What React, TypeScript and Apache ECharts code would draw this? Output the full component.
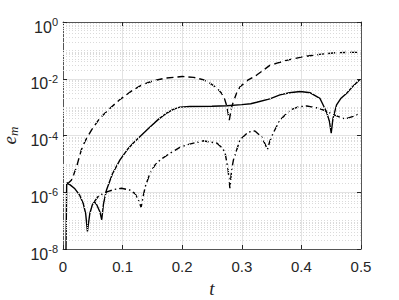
import React, { useEffect, useRef } from 'react';
import * as echarts from 'echarts';

// Solid curve
const tSolid = [0.0045, 0.0062, 0.012, 0.020, 0.028, 0.034, 0.038, 0.041, 0.045, 0.049, 0.0526, 0.057, 0.062, 0.065, 0.068, 0.073, 0.083, 0.0956, 0.108, 0.118, 0.131, 0.146, 0.16, 0.174, 0.185, 0.196, 0.213, 0.25, 0.275, 0.30, 0.315, 0.325, 0.347, 0.364, 0.38, 0.398, 0.415, 0.431, 0.442, 0.447, 0.45, 0.453, 0.459, 0.466, 0.476, 0.487, 0.498];
const eSolid = [1e-9, 2.09e-6, 1.82e-6, 1.32e-6, 7.9e-7, 4.0e-7, 1.78e-7, 4.2e-8, 1.78e-7, 3.5e-7, 4.7e-7, 3.5e-7, 2.0e-7, 1.07e-7, 4.0e-7, 1.2e-6, 4.5e-6, 1.38e-5, 3.2e-5, 5.4e-5, 1.0e-4, 2.0e-4, 3.7e-4, 6.2e-4, 8.3e-4, 1.0e-3, 1.05e-3, 1.07e-3, 1.12e-3, 1.23e-3, 1.32e-3, 1.48e-3, 1.95e-3, 2.7e-3, 3.2e-3, 3.55e-3, 3.2e-3, 2.05e-3, 6.9e-4, 3.2e-4, 1.2e-4, 4.0e-4, 1.2e-3, 2.0e-3, 3.1e-3, 5.6e-3, 9.5e-3];

// Dashed curve
const tDashed = [0.0062, 0.010, 0.014, 0.018, 0.023, 0.026, 0.031, 0.037, 0.048, 0.062, 0.079, 0.0945, 0.118, 0.132, 0.15, 0.171, 0.2, 0.219, 0.235, 0.247, 0.258, 0.266, 0.271, 0.275, 0.279, 0.283, 0.286, 0.291, 0.297, 0.31, 0.325, 0.347, 0.359, 0.38, 0.403, 0.43, 0.459, 0.48, 0.498];
const eDashed = [2.09e-6, 2.19e-6, 2.63e-6, 4.2e-6, 8.1e-6, 1.38e-5, 3.2e-5, 6.3e-5, 1.58e-4, 4.1e-4, 9.1e-4, 1.78e-3, 4.1e-3, 6.0e-3, 8.3e-3, 1.05e-2, 1.2e-2, 1.12e-2, 9.3e-3, 6.9e-3, 4.8e-3, 3.1e-3, 2.0e-3, 1.05e-3, 3.5e-4, 1.0e-3, 1.58e-3, 3.0e-3, 5.2e-3, 8.9e-3, 1.35e-2, 2.95e-2, 3.55e-2, 4.7e-2, 6.0e-2, 7.2e-2, 8.3e-2, 8.5e-2, 8.5e-2];

// Dash-dot curve
const tDashDot = [0.0526, 0.059, 0.068, 0.076, 0.086, 0.098, 0.112, 0.121, 0.127, 0.131, 0.134, 0.138, 0.146, 0.154, 0.163, 0.18, 0.196, 0.208, 0.235, 0.258, 0.268, 0.272, 0.277, 0.28, 0.283, 0.286, 0.297, 0.311, 0.322, 0.333, 0.339, 0.343, 0.347, 0.353, 0.364, 0.381, 0.395, 0.409, 0.425, 0.437, 0.454, 0.473, 0.487, 0.498];
const eDashDot = [4.7e-7, 7.1e-7, 9.3e-7, 1.07e-6, 1.26e-6, 1.38e-6, 1.2e-6, 8.9e-7, 5.0e-7, 2.95e-7, 6.3e-7, 1.58e-6, 4.7e-6, 8.9e-6, 1.38e-5, 2.4e-5, 3.8e-5, 4.7e-5, 6.5e-5, 5.4e-5, 3.5e-5, 2.4e-5, 6.2e-6, 1.38e-6, 6.3e-6, 1.38e-5, 7.1e-5, 1.32e-4, 1.45e-4, 9.1e-5, 5.0e-5, 3.2e-5, 6.3e-5, 1.26e-4, 3.5e-4, 7.9e-4, 1.02e-3, 1.1e-3, 9.5e-4, 7.9e-4, 5.4e-4, 3.8e-4, 4.7e-4, 5.8e-4];

// Axes
const xMin = 0;
const xMax = 0.5;
const xStep = 0.1;
const yMinExp = -8;
const yMaxExp = 0;
const yStepExp = 2;

const AXIS = '#262626';

export default function App() {
  const ref = useRef<HTMLDivElement>(null);
  useEffect(() => {
    const chart = echarts.init(ref.current!, null, { renderer: 'svg' });
    const toPts = (ts: number[], vs: number[]) => ts.map((t, i) => [t, Math.log10(vs[i])]);
    const minor: number[] = [];
    for (let e = yMinExp; e < yMaxExp; e++) {
      for (let k = 1; k <= 9; k++) {
        if (k === 1 && e % yStepExp === 0) continue;
        minor.push(e + Math.log10(k));
      }
    }
    const tickStyle = { inside: true, length: 4, lineStyle: { color: AXIS, width: 1 } };
    const lineStyleAxis = { color: '#555', width: 1 };
    chart.setOption({
      animation: false,
      grid: { left: 63, right: 38, top: 22, bottom: 51, containLabel: false, outerBoundsMode: 'none' },
      xAxis: [
        {
          type: 'value', min: xMin, max: xMax, interval: xStep, position: 'bottom',
          axisLine: { show: true, onZero: false, lineStyle: lineStyleAxis },
          axisTick: tickStyle,
          axisLabel: { fontSize: 15, color: AXIS, fontFamily: 'Liberation Sans', margin: 10 },
          splitLine: { show: true, lineStyle: { color: '#e3e3e3', width: 1 } },
          name: 't', nameLocation: 'middle', nameGap: 29,
          nameTextStyle: { fontFamily: 'Liberation Serif', fontStyle: 'italic', fontSize: 19, color: AXIS },
        },
        {
          type: 'value', min: xMin, max: xMax, interval: xStep, position: 'top',
          axisLine: { show: true, onZero: false, lineStyle: lineStyleAxis },
          axisTick: tickStyle, axisLabel: { show: false }, splitLine: { show: false },
        },
      ],
      yAxis: [
        {
          type: 'value', min: yMinExp, max: yMaxExp, interval: yStepExp, position: 'left',
          axisLine: { show: true, onZero: false, lineStyle: lineStyleAxis },
          axisTick: tickStyle,
          axisLabel: {
            margin: 5, color: AXIS, fontFamily: 'Liberation Sans',
            formatter: (v: number) => `{b|10}{s|${Math.round(v)}}`,
            rich: {
              b: { fontSize: 16, color: AXIS, fontFamily: 'Liberation Sans', padding: [10, 0, 0, 0] },
              s: { fontSize: 11, color: AXIS, fontFamily: 'Liberation Sans' },
            },
          },
          splitLine: { show: true, lineStyle: { color: '#e3e3e3', width: 1 } },
          name: '{e|e}{m|m}', nameLocation: 'middle', nameGap: 43, nameRotate: 90,
          nameTextStyle: {
            rich: {
              e: { fontFamily: 'Liberation Serif', fontStyle: 'italic', fontSize: 19, color: AXIS },
              m: { fontFamily: 'Liberation Serif', fontStyle: 'italic', fontSize: 13, color: AXIS, padding: [7, 0, 0, 0] },
            },
          },
        },
        {
          type: 'value', min: yMinExp, max: yMaxExp, interval: yStepExp, position: 'right',
          axisLine: { show: true, onZero: false, lineStyle: lineStyleAxis },
          axisTick: tickStyle, axisLabel: { show: false }, splitLine: { show: false },
        },
      ],
      series: [
        {
          type: 'line', data: [], z: 1, silent: true,
          markLine: {
            silent: true, symbol: ['none', 'none'], label: { show: false },
            lineStyle: { color: '#dadada', type: [1, 2], width: 1 },
            data: minor.map((y) => ({ yAxis: y })),
          },
        },
        {
          type: 'line', data: toPts(tSolid, eSolid), symbol: 'none', showSymbol: false, clip: true, z: 3,
          lineStyle: { color: '#000', width: 1.4, type: 'solid' },
        },
        {
          type: 'line', data: toPts(tDashed, eDashed), symbol: 'none', showSymbol: false, clip: true, z: 3,
          lineStyle: { color: '#000', width: 1.4, type: [7, 4] },
        },
        {
          type: 'line', data: toPts(tDashDot, eDashDot), symbol: 'none', showSymbol: false, clip: true, z: 3,
          lineStyle: { color: '#000', width: 1.4, type: [7, 3, 1.5, 3] },
        },
      ],
    });
    return () => chart.dispose();
  }, []);
  return <div ref={ref} style={{ position: 'fixed', left: 0, top: 0, width: 399, height: 300, background: '#fff' }} />;
}
